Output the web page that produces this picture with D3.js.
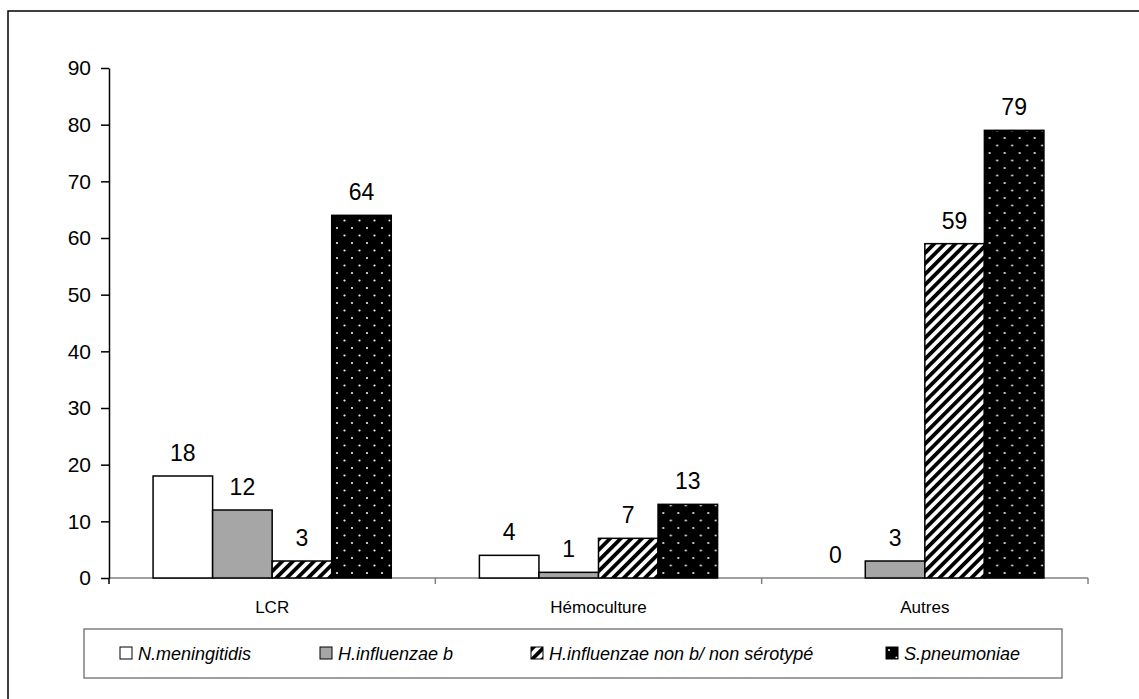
<!DOCTYPE html>
<html>
<head>
<meta charset="utf-8">
<script src="https://cdn.jsdelivr.net/npm/d3@7"></script>
<style>
  body { margin: 0; background: #fff; }
  svg { display: block; font-family: "Liberation Sans", Arial, sans-serif; }
</style>
</head>
<body>
<script>
var categories = ['LCR', 'Hémoculture', 'Autres'];
var seriesNames = ['N.meningitidis', 'H.influenzae b', 'H.influenzae non b/ non sérotypé', 'S.pneumoniae'];
var nMeningitidis = [18, 4, 0];
var hInfluenzaeB = [12, 1, 3];
var hInfluenzaeNonB = [3, 7, 59];
var sPneumoniae = [64, 13, 79];
var yTicks = [0, 10, 20, 30, 40, 50, 60, 70, 80, 90];

var seriesValues = [nMeningitidis, hInfluenzaeB, hInfluenzaeNonB, sPneumoniae];
var fills = ['#ffffff', '#a6a6a6', 'url(#hatch)', 'url(#dots)'];

var width = 1139;
var height = 699;
var plot = { left: 109, right: 1088, top: 68, bottom: 578 };

var svg = d3.select('body')
            .append('svg')
            .attr('width', width)
            .attr('height', height);

var defs = svg.append('defs');

// diagonal stripes
var hatch = defs.append('pattern')
    .attr('id', 'hatch')
    .attr('patternUnits', 'userSpaceOnUse')
    .attr('width', 7.5)
    .attr('height', 7.5)
    .attr('patternTransform', 'rotate(45)');
hatch.append('rect').attr('width', 7.5).attr('height', 7.5).attr('fill', '#fff');
hatch.append('rect').attr('width', 3.8).attr('height', 7.5).attr('fill', '#000');

// black with white dots
var dots = defs.append('pattern')
    .attr('id', 'dots')
    .attr('patternUnits', 'userSpaceOnUse')
    .attr('width', 15)
    .attr('height', 15);
dots.append('rect').attr('width', 15).attr('height', 15).attr('fill', '#000');
dots.append('circle').attr('cx', 3).attr('cy', 3).attr('r', 1.1).attr('fill', '#eee');
dots.append('circle').attr('cx', 10.5).attr('cy', 10.5).attr('r', 1.1).attr('fill', '#eee');

// outer frame
svg.append('rect')
    .attr('x', 8)
    .attr('y', 11)
    .attr('width', 1200)
    .attr('height', 800)
    .attr('fill', 'none')
    .attr('stroke', '#000')
    .attr('stroke-width', 1.5);

var xScale = d3.scaleBand()
                .domain(categories)
                .range([plot.left, plot.right]);

var xInner = d3.scaleBand()
                .domain(d3.range(seriesNames.length))
                .range([0, xScale.bandwidth()])
                .paddingOuter(0.74)
                .paddingInner(0);

var yScale = d3.scaleLinear()
                .domain([0, 90])
                .range([plot.bottom, plot.top]);

// x axis line (gray) with boundary ticks
svg.append('line')
    .attr('x1', plot.left).attr('x2', plot.right)
    .attr('y1', plot.bottom).attr('y2', plot.bottom)
    .attr('stroke', '#808080').attr('stroke-width', 1.5);

var bounds = categories.map(function (c) { return xScale(c); }).concat([plot.right]);
svg.selectAll('.xtick')
    .data(bounds)
    .enter()
    .append('line')
    .attr('class', 'xtick')
    .attr('x1', function (d) { return d; })
    .attr('x2', function (d) { return d; })
    .attr('y1', plot.bottom)
    .attr('y2', plot.bottom + 6)
    .attr('stroke', function (d, i) { return i === 0 ? '#000' : '#808080'; })
    .attr('stroke-width', 1.5);

svg.selectAll('.xlabel')
    .data(categories)
    .enter()
    .append('text')
    .attr('class', 'xlabel')
    .attr('x', function (d) { return xScale(d) + xScale.bandwidth() / 2; })
    .attr('y', 613)
    .attr('text-anchor', 'middle')
    .attr('font-size', 17)
    .text(function (d) { return d; });

// bars
var groups = svg.selectAll('.group')
    .data(categories)
    .enter()
    .append('g')
    .attr('class', 'group')
    .attr('transform', function (d) { return `translate(${xScale(d)},0)`; });

function cells(d, ci) {
  return seriesValues.map(function (vals, si) { return { s: si, v: vals[ci] }; });
}

groups.selectAll('rect')
    .data(cells)
    .enter()
    .append('rect')
    .attr('x', function (d) { return xInner(d.s); })
    .attr('width', xInner.bandwidth())
    .attr('y', function (d) { return yScale(d.v); })
    .attr('height', function (d) { return plot.bottom - yScale(d.v); })
    .attr('fill', function (d) { return fills[d.s]; })
    .attr('stroke', function (d) { return d.v > 0 ? '#000' : 'none'; })
    .attr('stroke-width', 1.5);

groups.selectAll('text')
    .data(cells)
    .enter()
    .append('text')
    .attr('x', function (d) { return xInner(d.s) + xInner.bandwidth() / 2; })
    .attr('y', function (d) { return yScale(d.v) - 15; })
    .attr('text-anchor', 'middle')
    .attr('font-size', 23)
    .text(function (d) { return d.v; });

// y axis
var yAxis = svg.append('g')
    .attr('transform', `translate(${plot.left},0)`)
    .call(d3.axisLeft(yScale).tickValues(yTicks).tickSize(8).tickSizeOuter(0).tickPadding(10));
yAxis.select('.domain').attr('stroke', '#000').attr('stroke-width', 1.5);
yAxis.selectAll('.tick line').attr('stroke', '#000').attr('stroke-width', 1.5);
yAxis.selectAll('.tick text')
    .attr('font-size', 21)
    .attr('font-family', '"Liberation Sans", Arial, sans-serif')
    .attr('fill', '#000');

// legend
var legendX = [120, 320, 531, 886];
var legend = svg.append('g');
legend.append('rect')
    .attr('x', 84).attr('y', 629)
    .attr('width', 978).attr('height', 49)
    .attr('fill', '#fff')
    .attr('stroke', '#808080')
    .attr('stroke-width', 1.5);

var items = legend.selectAll('.item')
    .data(seriesNames)
    .enter()
    .append('g')
    .attr('class', 'item')
    .attr('transform', function (d, i) { return `translate(${legendX[i]},647)`; });

items.append('rect')
    .attr('width', 12).attr('height', 12)
    .attr('fill', function (d, i) { return fills[i]; })
    .attr('stroke', '#000')
    .attr('stroke-width', 1);

items.append('text')
    .attr('x', 18)
    .attr('y', 13)
    .attr('font-size', 18)
    .attr('font-style', 'italic')
    .text(function (d) { return d; });
</script>
</body>
</html>
